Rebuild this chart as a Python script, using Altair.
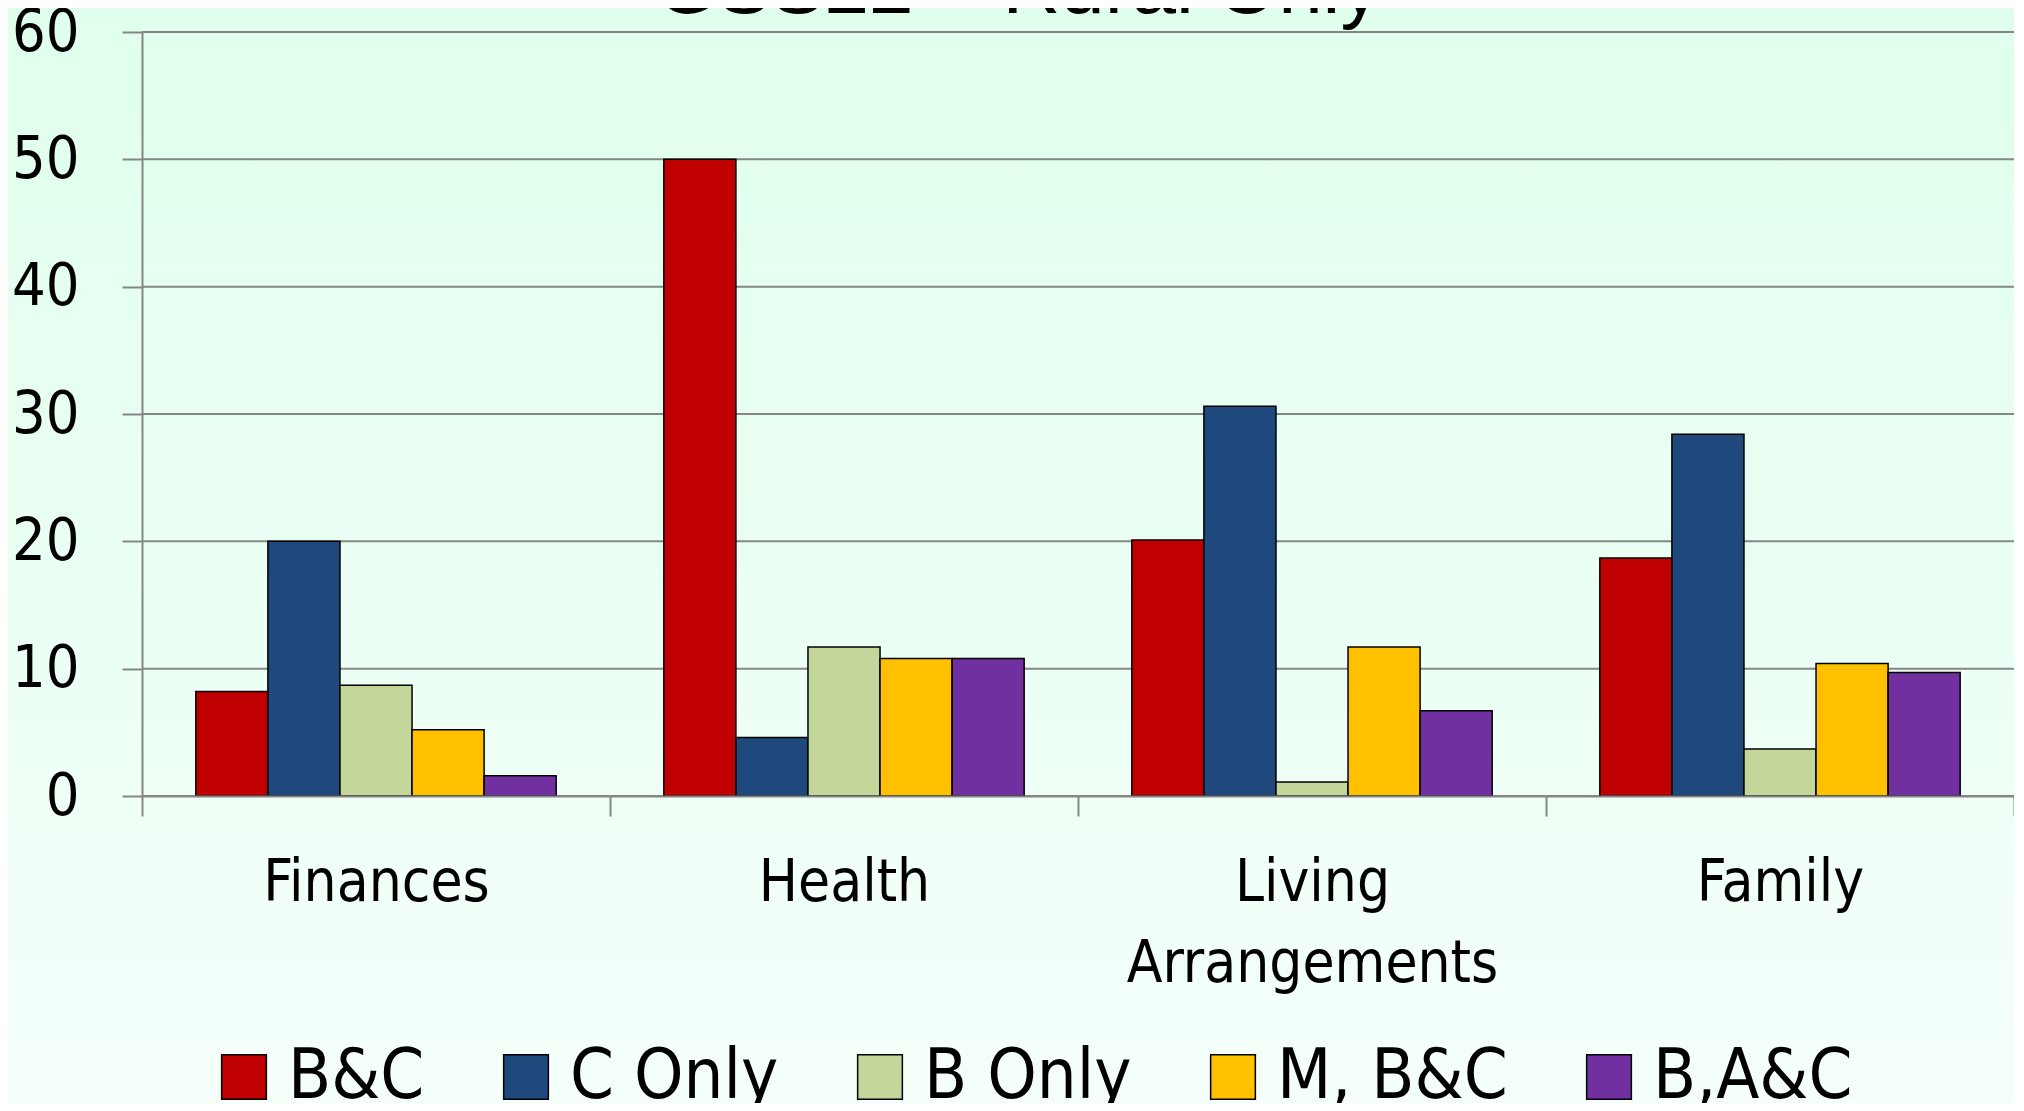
import altair as alt
import pandas as pd

categories = ["Finances", "Health", "Living Arrangements", "Family"]
series = ["B&C", "C Only", "B Only", "M, B&C", "B,A&C"]
colors = ["#C00000", "#1F497D", "#C4D79B", "#FFC000", "#7030A0"]
bc = [8.2, 50.0, 20.1, 18.7]
c_only = [20.0, 4.6, 30.6, 28.4]
b_only = [8.7, 11.7, 1.1, 3.7]
m_bc = [5.2, 10.8, 11.7, 10.4]
bac = [1.6, 10.8, 6.7, 9.7]
y_ticks = [0, 10, 20, 30, 40, 50, 60]
title_text = "GSS22 – Rural Only"

FONT = "DejaVu Sans Condensed"
GRID = "#868686"
W, H = 1872, 764
PAD_L, PAD_T, PAD_B = 134, 24, 307

rows = []
for s, vals in zip(series, [bc, c_only, b_only, m_bc, bac]):
    for c, v in zip(categories, vals):
        rows.append({"category": c, "series": s, "value": v})
df = pd.DataFrame(rows)

yscale = alt.Scale(domain=[0, 60], nice=False, zero=True)
yaxis = alt.Axis(
    title=None, values=y_ticks, labelFont=FONT, labelFontSize=59,
    labelColor="black", labelPadding=43, tickSize=20, tickColor=GRID,
    tickWidth=2, domainColor=GRID, domainWidth=2, grid=False, zindex=1,
)

bg = alt.Chart(pd.DataFrame({"a": [0]})).mark_rect(
    fill=alt.LinearGradient(
        gradient="linear",
        stops=[alt.GradientStop(color="#DFFFEC", offset=0),
               alt.GradientStop(color="#F5FFFA", offset=1)],
        x1=0, x2=0, y1=0, y2=1,
    )
).encode(
    x=alt.value(-PAD_L), x2=alt.value(W), y=alt.value(-PAD_T), y2=alt.value(H + PAD_B)
)

grid = alt.Chart(pd.DataFrame({"tick": y_ticks})).mark_rule(
    color=GRID, strokeWidth=2
).encode(
    y=alt.Y("tick:Q", scale=yscale, axis=yaxis),
    x=alt.value(0), x2=alt.value(W),
)

bars = alt.Chart(df).mark_bar(stroke="black", strokeWidth=1.5).encode(
    x=alt.X(
        "category:N", sort=categories,
        scale=alt.Scale(paddingInner=0, paddingOuter=0),
        axis=alt.Axis(
            title=None, labelAngle=0, labelFont=FONT, labelFontSize=58,
            labelColor="black", labelPadding=38, labelLimit=600,
            labelExpr="split(datum.label, ' ')", labelLineHeight=81,
            labelBaseline="top",
            tickBand="extent", tickSize=20, tickColor=GRID, tickWidth=2,
            domainColor=GRID, domainWidth=2, grid=False, zindex=1,
        ),
    ),
    xOffset=alt.XOffset("series:N", sort=series,
                        scale=alt.Scale(paddingInner=0, paddingOuter=0.747)),
    y=alt.Y("value:Q", scale=yscale, axis=yaxis),
    color=alt.Color(
        "series:N", sort=series,
        scale=alt.Scale(domain=series, range=colors),
        legend=alt.Legend(
            orient="none", legendX=67, legendY=1010, direction="horizontal",
            title=None, symbolType="square", symbolSize=2000,
            symbolStrokeColor="black", symbolStrokeWidth=1.5,
            labelFont=FONT, labelFontSize=70, labelColor="black",
            labelOffset=9, columnPadding=66, labelLimit=500,
        ),
    ),
)

title = alt.Chart(pd.DataFrame({"t": [title_text]})).mark_text(
    font="Liberation Sans", fontSize=80, color="black", align="center", baseline="alphabetic"
).encode(
    text="t:N", x=alt.value(876), y=alt.value(-19)
)

chart = alt.layer(bg, grid, bars, title).properties(
    width=W, height=H,
    autosize=alt.AutoSizeParams(type="none"),
    padding={"left": PAD_L, "top": PAD_T, "right": 0, "bottom": PAD_B},
).configure_view(stroke=None).configure(background="#E8FFF2")

chart.save("out.html", embed_options={"renderer": "svg", "actions": False})
